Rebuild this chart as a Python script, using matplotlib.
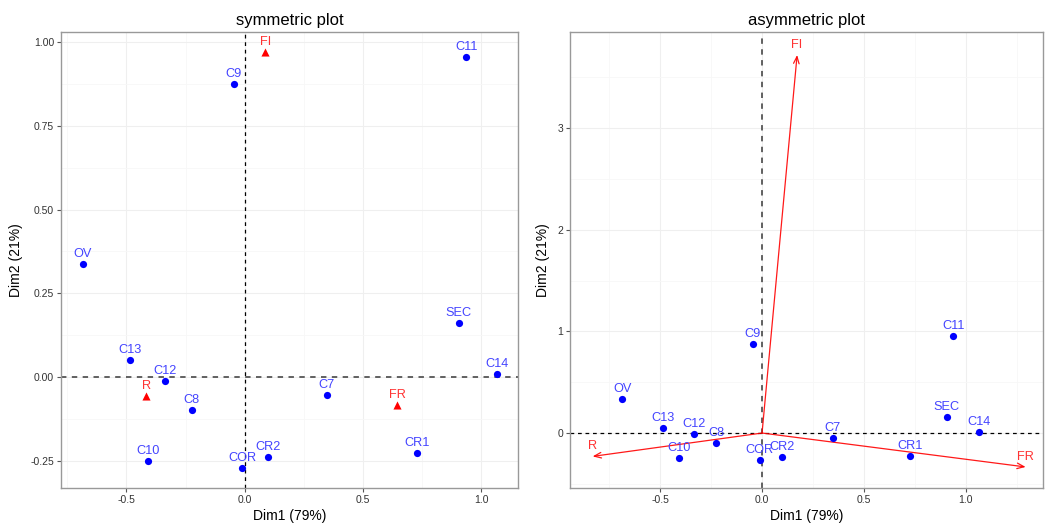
import matplotlib
matplotlib.use("Agg")
import matplotlib.pyplot as plt
import numpy as np

plt.rcParams['font.family'] = ['Liberation Sans', 'DejaVu Sans']

row_labels = ["C7", "C8", "C9", "C10", "C11", "C12", "C13", "C14", "COR", "CR1", "CR2", "OV", "SEC"]
row_dim1 = [0.347, -0.225, -0.046, -0.408, 0.937, -0.335, -0.486, 1.066, -0.011, 0.728, 0.100, -0.686, 0.906]
row_dim2 = [-0.053, -0.097, 0.873, -0.250, 0.955, -0.012, 0.052, 0.009, -0.269, -0.227, -0.237, 0.339, 0.162]

col_labels = ["FI", "FR", "R"]
col_sym_dim1 = [0.0875, 0.644, -0.417]
col_sym_dim2 = [0.970, -0.082, -0.057]
col_asym_dim1 = [0.172, 1.293, -0.831]
col_asym_dim2 = [3.72, -0.334, -0.230]

xlabel = "Dim1 (79%)"
ylabel = "Dim2 (21%)"

W, H = 1048, 526
fig = plt.figure(figsize=(W / 100, H / 100), dpi=100)

def px_axes(l, t, r, b):
    return fig.add_axes([l / W, 1 - b / H, (r - l) / W, (b - t) / H])

ax1 = px_axes(61, 32, 518, 488)
ax2 = px_axes(570, 32, 1043, 488)

BLUE = "#0000FF"
RED = "#FF0000"
TXT_BLUE = "#4444FF"
TXT_RED = "#FF3333"

def style(ax, xlim, ylim, xmaj, xmin, ymaj, ymin, yfmt):
    ax.set_xlim(*xlim)
    ax.set_ylim(*ylim)
    ax.set_xticks(xmaj)
    ax.set_xticks(xmin, minor=True)
    ax.set_yticks(ymaj)
    ax.set_yticks(ymin, minor=True)
    ax.set_xticklabels([f"{v:.1f}" for v in xmaj])
    ax.set_yticklabels([yfmt(v) for v in ymaj])
    ax.grid(True, which='major', color="#EFEFEF", lw=0.8, zorder=0)
    ax.grid(True, which='minor', color="#F7F7F7", lw=0.6, zorder=0)
    ax.set_axisbelow(True)
    for s in ax.spines.values():
        s.set_color("#999999")
        s.set_linewidth(1.0)
    ax.tick_params(which='major', length=3, width=0.8, color="#555555",
                   labelsize=7.5, labelcolor="#333333", pad=2)
    ax.tick_params(which='minor', length=0)
    ax.set_xlabel(xlabel, fontsize=10, labelpad=3)
    ax.set_ylabel(ylabel, fontsize=10, labelpad=5)

# left panel: symmetric
style(ax1, (-0.777, 1.156), (-0.330, 1.029),
      [-0.5, 0.0, 0.5, 1.0], [-0.75, -0.25, 0.25, 0.75],
      [-0.25, 0.0, 0.25, 0.5, 0.75, 1.0], [-0.125, 0.125, 0.375, 0.625, 0.875],
      lambda v: f"{v:.2f}")
ax1.axvline(0, color="black", lw=0.9, ls=(0, (3, 3)), zorder=1)
ax1.axhline(0, color="#555555", lw=1.3, ls=(0, (3, 3)), zorder=1)
ax1.scatter(row_dim1, row_dim2, s=27, color=BLUE, zorder=3, linewidths=0)
ax1.scatter(col_sym_dim1, col_sym_dim2, s=34, color=RED, marker='^', zorder=3, linewidths=0)
for lab, x, y in zip(row_labels, row_dim1, row_dim2):
    ax1.annotate(lab, (x, y), xytext=(0, 7.2), textcoords='offset points',
                 ha='center', va='center', fontsize=9.2, color=TXT_BLUE, zorder=4)
for lab, x, y in zip(col_labels, col_sym_dim1, col_sym_dim2):
    ax1.annotate(lab, (x, y), xytext=(0, 7.2), textcoords='offset points',
                 ha='center', va='center', fontsize=9.2, color=TXT_RED, zorder=4)
ax1.set_title("symmetric plot", fontsize=12, pad=5)

# right panel: asymmetric
style(ax2, (-0.942, 1.378), (-0.541, 3.946),
      [-0.5, 0.0, 0.5, 1.0], [-0.75, -0.25, 0.25, 0.75, 1.25],
      [0, 1, 2, 3], [-0.5, 0.5, 1.5, 2.5, 3.5],
      lambda v: f"{int(v)}")
ax2.axvline(0, color="#555555", lw=1.3, ls=(0, (3, 3)), zorder=1)
ax2.axhline(0, color="black", lw=0.9, ls=(0, (3, 3)), zorder=1)
ax2.scatter(row_dim1, row_dim2, s=27, color=BLUE, zorder=3, linewidths=0)
for lab, x, y in zip(row_labels, row_dim1, row_dim2):
    ax2.annotate(lab, (x, y), xytext=(0, 7.2), textcoords='offset points',
                 ha='center', va='center', fontsize=9.2, color=TXT_BLUE, zorder=4)
for lab, x, y in zip(col_labels, col_asym_dim1, col_asym_dim2):
    ax2.annotate("", xy=(x, y), xytext=(0, 0),
                 arrowprops=dict(arrowstyle="->,head_length=0.5,head_width=0.2",
                                 color=RED, lw=0.9, alpha=0.9,
                                 shrinkA=0, shrinkB=0), zorder=2)
    ax2.annotate(lab, (x, y), xytext=(0, 7.2), textcoords='offset points',
                 ha='center', va='center', fontsize=9.2, color=TXT_RED, zorder=4)
ax2.set_title("asymmetric plot", fontsize=12, pad=5)

fig.savefig("out.png", dpi=100)
